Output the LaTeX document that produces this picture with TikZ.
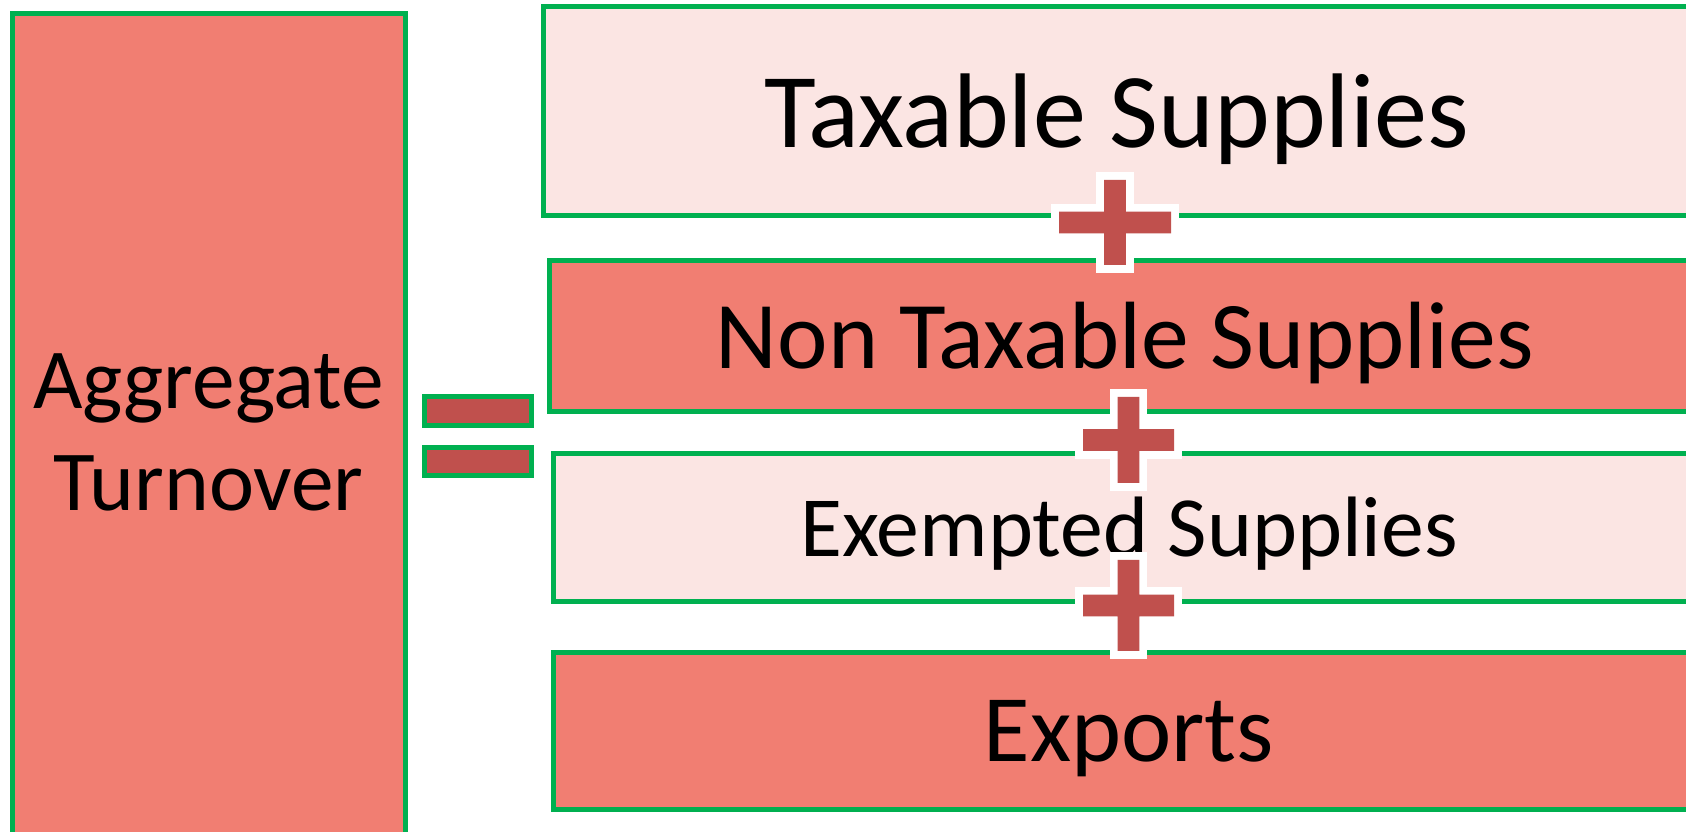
\documentclass[tikz,border=0pt]{standalone}
\usepackage{fontspec}
\setmainfont{Carlito}
\usetikzlibrary{positioning}

\definecolor{salmon}{RGB}{241,126,114}
\definecolor{blush}{RGB}{251,229,227}
\definecolor{brick}{RGB}{192,80,77}
\definecolor{leaf}{RGB}{0,176,80}

\begin{document}
\begin{tikzpicture}[
    full box/.style={
        rectangle,
        draw=leaf,
        line width=0.05cm,
        fill=salmon,
        inner sep=0pt,
        minimum width=11.52cm,
        align=center
    },
    pale box/.style={
        full box,
        fill=blush
    },
    eq bar/.style={
        rectangle,
        draw=leaf,
        line width=0.05cm,
        fill=brick,
        inner sep=0pt,
        minimum width=1.07cm,
        minimum height=0.285cm
    },
    plus sign/.style={
        fill=brick,
        preaction={draw=white, line width=0.16cm}
    }
]

\useasboundingbox (0,0) rectangle (16.86,-8.32);
\clip (0,0) rectangle (16.86,-8.32);

% Left block
\node[full box, minimum width=3.93cm, minimum height=8.37cm,
      font=\fontsize{24.3}{29}\selectfont] (agg) at (2.085,-4.32) {Aggregate\\Turnover};

% Equals sign
\node[eq bar] (eqtop) at (4.78,-4.11) {};
\node[eq bar] (eqbot) at (4.78,-4.615) {};

% Right blocks
\node[pale box, minimum width=11.48cm, minimum height=2.095cm, text height=0.72cm, text depth=0pt,
      font=\fontsize{30.2}{36}\selectfont] (tax) at (11.17,-1.1125) {Taxable Supplies};
\node[full box, minimum height=1.51cm, text height=0.646cm, text depth=0pt,
      font=\fontsize{27.2}{32}\selectfont] (nontax) at (11.25,-3.365) {Non Taxable Supplies};
\node[pale box, minimum height=1.48cm, text height=0.58cm, text depth=0pt,
      font=\fontsize{24.4}{29}\selectfont] (exempt) at (11.29,-5.28) {Exempted Supplies};
\node[full box, minimum height=1.56cm, text height=0.606cm, text depth=0pt,
      font=\fontsize{27.1}{32}\selectfont] (export) at (11.29,-7.31) {Exports};

% Plus signs between the blocks
\foreach \px/\py/\hw/\hh in {11.15/-2.225/0.56/0.425, 11.285/-4.40/0.455/0.43, 11.285/-6.055/0.455/0.455}
    \fill[plus sign] ({\px-0.108},{\py+\hh}) -- ({\px+0.108},{\py+\hh}) -- ({\px+0.108},{\py+0.108})
        -- ({\px+\hw},{\py+0.108}) -- ({\px+\hw},{\py-0.108}) -- ({\px+0.108},{\py-0.108})
        -- ({\px+0.108},{\py-\hh}) -- ({\px-0.108},{\py-\hh}) -- ({\px-0.108},{\py-0.108})
        -- ({\px-\hw},{\py-0.108}) -- ({\px-\hw},{\py+0.108}) -- ({\px-0.108},{\py+0.108}) -- cycle;

\end{tikzpicture}
\end{document}
